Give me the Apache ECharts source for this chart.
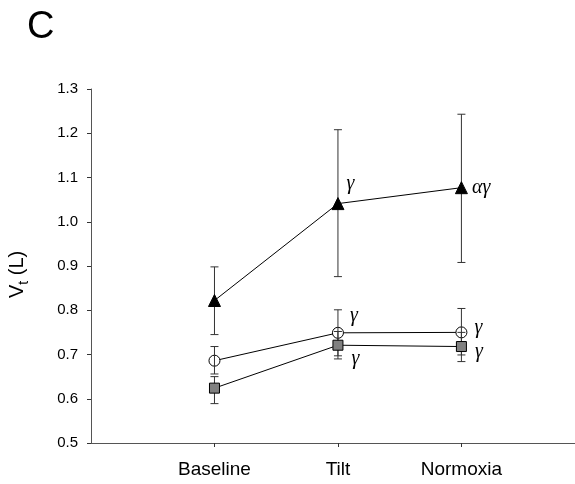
<!DOCTYPE html>
<html>
<head>
<meta charset="utf-8">
<script src="https://cdn.jsdelivr.net/npm/echarts@6/dist/echarts.min.js"></script>
<style>
  html, body { margin: 0; padding: 0; background: #fff; }
  #chart { width: 575px; height: 484px; }
</style>
</head>
<body>
<div id="chart"></div>
<script>
// Conditions along the x axis, placed at positions 1, 2, 3
const categories = ['Baseline', 'Tilt', 'Normoxia'];
const yTicks = [0.5, 0.6, 0.7, 0.8, 0.9, 1.0, 1.1, 1.2, 1.3];

// Filled triangles: mean with lower / upper error limits
const triMean = [0.822, 1.041, 1.077];
const triLow  = [0.745, 0.876, 0.908];
const triHigh = [0.898, 1.208, 1.243];
const triNote = ['', 'γ', 'αγ'];

// Open circles
const circMean = [0.686, 0.749, 0.750];
const circLow  = [0.656, 0.697, 0.699];
const circHigh = [0.718, 0.801, 0.804];
const circNote = ['', 'γ', 'γ'];

// Grey squares
const sqMean = [0.624, 0.721, 0.718];
const sqLow  = [0.589, 0.690, 0.684];
const sqHigh = [0.650, 0.752, 0.750];
const sqNote = ['', 'γ', 'γ'];

const catPositions = categories.map((c, i) => i + 1);
const greekFont = { fontFamily: '"Liberation Serif", "DejaVu Serif", serif', fontStyle: 'italic', fontSize: 20, color: '#000' };

function points(means, notes, labelOffsets) {
  return means.map((v, i) => ({
    value: [i + 1, v],
    label: notes[i] ? Object.assign({ show: true, formatter: notes[i], position: 'right', offset: labelOffsets[i] }, greekFont) : { show: false }
  }));
}

function errorBars(low, high, z) {
  return {
    type: 'custom',
    z: z,
    silent: true,
    data: low.map((l, i) => [i + 1, l, high[i]]),
    renderItem: function (params, api) {
      const lo = api.coord([api.value(0), api.value(1)]);
      const hi = api.coord([api.value(0), api.value(2)]);
      const w = 4;
      const style = { stroke: '#333', lineWidth: 1 };
      return {
        type: 'group',
        children: [
          { type: 'line', shape: { x1: lo[0], y1: lo[1], x2: hi[0], y2: hi[1] }, style: style },
          { type: 'line', shape: { x1: lo[0] - w, y1: lo[1], x2: lo[0] + w, y2: lo[1] }, style: style },
          { type: 'line', shape: { x1: hi[0] - w, y1: hi[1], x2: hi[0] + w, y2: hi[1] }, style: style }
        ]
      };
    }
  };
}

const chart = echarts.init(document.getElementById('chart'), null, { renderer: 'canvas' });

chart.setOption({
  animation: false,
  backgroundColor: '#fff',
  grid: { left: 91, top: 89, bottom: 41, right: 0 },
  xAxis: {
    type: 'value',
    min: 0,
    max: 3.92,
    interval: 1,
    axisLine: { show: true, lineStyle: { color: '#555', width: 1 } },
    axisTick: { show: true, length: 4, customValues: catPositions, lineStyle: { color: '#333' } },
    axisLabel: {
      margin: 17, color: '#000', fontSize: 19, fontFamily: '"Liberation Sans", Arial, sans-serif',
      customValues: catPositions,
      formatter: v => categories[Math.round(v) - 1] || ''
    },
    splitLine: { show: false }
  },
  yAxis: {
    type: 'value',
    min: yTicks[0],
    max: yTicks[yTicks.length - 1],
    interval: 0.1,
    axisLine: { show: true, lineStyle: { color: '#555', width: 1 } },
    axisTick: { show: true, length: 4, lineStyle: { color: '#333' } },
    axisLabel: { margin: 13, color: '#000', fontSize: 15, fontFamily: '"Liberation Sans", Arial, sans-serif', formatter: v => v.toFixed(1) },
    splitLine: { show: false }
  },
  graphic: [
    { type: 'text', left: 27, top: 9, style: { text: 'C', fontSize: 38, fontFamily: '"Liberation Sans", Arial, sans-serif', fill: '#000' } },
    {
      type: 'text', x: 3, y: 298, rotation: Math.PI / 2,
      style: {
        text: '{a|V}{b|t}{a| (L)}',
        fill: '#000',
        rich: {
          a: { fontSize: 20, fontFamily: '"Liberation Sans", Arial, sans-serif', lineHeight: 24, verticalAlign: 'bottom' },
          b: { fontSize: 14, fontFamily: '"Liberation Sans", Arial, sans-serif', lineHeight: 24, verticalAlign: 'bottom', padding: [0, 0, -4, 0] }
        }
      }
    }
  ],
  series: [
    {
      type: 'line', z: 2,
      data: points(circMean, circNote, [[2, 0], [1, -17], [2, -5]]),
      symbol: 'circle', symbolSize: 11,
      lineStyle: { color: '#000', width: 1 },
      itemStyle: { color: '#fff', borderColor: '#000', borderWidth: 1 }
    },
    errorBars(circLow, circHigh, 3),
    errorBars(sqLow, sqHigh, 3),
    errorBars(triLow, triHigh, 3),
    {
      type: 'line', z: 4,
      data: points(sqMean, sqNote, [[2, 0], [3, 14], [3, 5]]),
      symbol: 'rect', symbolSize: 10,
      lineStyle: { color: '#000', width: 1 },
      itemStyle: { color: '#808080', borderColor: '#000', borderWidth: 1 }
    },
    {
      type: 'line', z: 4,
      data: points(triMean, triNote, [[2, 0], [-3, -20], [-1, 0]]),
      symbol: 'triangle', symbolSize: 12,
      lineStyle: { color: '#000', width: 1 },
      itemStyle: { color: '#000', borderColor: '#000', borderWidth: 1 }
    }
  ]
});
</script>
</body>
</html>
